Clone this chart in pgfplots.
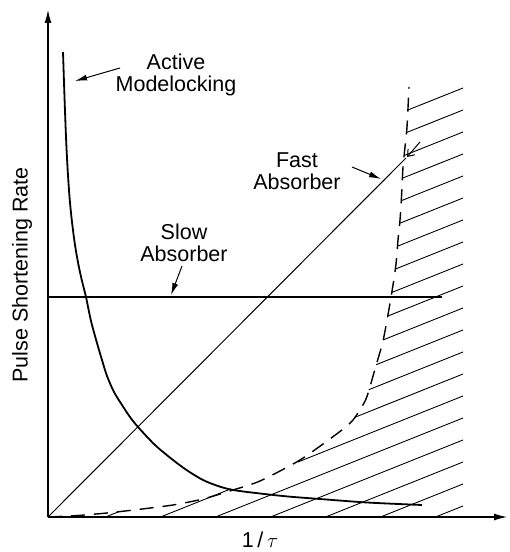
\documentclass[border=0pt]{standalone}
\usepackage{pgfplots}
\pgfplotsset{compat=1.18}
\usepackage{fontspec}
\setmainfont{Liberation Sans}
\usetikzlibrary{arrows.meta}
\begin{document}
\begin{tikzpicture}
\path[use as bounding box] (-48bp,-35bp) rectangle (462bp,517bp);
\begin{axis}[
  at={(0,0)}, anchor=south west,
  scale only axis, width=459bp, height=507bp,
  xmin=0, xmax=459, ymin=0, ymax=507,
  axis lines=left,
  axis line style={line width=1.1bp, -{Latex[length=13bp,width=7bp]}},
  xtick=\empty, ytick=\empty,
  clip=false,
]
% Active modelocking
\addplot[line width=1.8bp, smooth, tension=0.5] coordinates {
(15,465) (16.5,420) (18,380) (19.5,350) (21.5,320) (24,295) (27,272) (30.5,252)
(34,236) (38,220) (43,196) (49,174) (54,157) (59,141) (66,125) (74,112) (82,100)
(90,90) (107,72) (125,57) (140,46) (155,37) (170,31) (185,27) (212,23.5)
(240,20.5) (272,18) (319,14.5) (374,12)};
% Slow absorber
\addplot[line width=1.5bp] coordinates {(0,220) (394,220)};
% Fast absorber
\addplot[line width=1bp] coordinates {(0,0) (358,359)};
% Dashed boundary
\addplot[line width=1.4bp, dash pattern=on 14bp off 9bp, smooth, tension=0.4] coordinates {
(0,0) (30,1.5) (59,4) (90,7.5) (125,12) (155,18) (185,27) (212,36) (252,57)
(290,84) (305,97) (318,118) (327,148) (335,176) (341,208) (345,232) (348,253)
(350,277) (352,297) (353.5,320) (355,350) (357,370) (359,390) (361,430)};
% Hatching
\addplot[line width=0.9bp] coordinates {(387.5,0) (415,11)};
\addplot[line width=0.9bp] coordinates {(332.5,0) (415,33)};
\addplot[line width=0.9bp] coordinates {(277.5,0) (415,55)};
\addplot[line width=0.9bp] coordinates {(222.5,0) (415,77)};
\addplot[line width=0.9bp] coordinates {(167.5,0) (415,99)};
\addplot[line width=0.9bp] coordinates {(112.5,0) (183,28.2)};
\addplot[line width=0.9bp] coordinates {(250,55) (415,121)};
\addplot[line width=0.9bp] coordinates {(57.5,0) (70.8,5.3)};
\addplot[line width=0.9bp] coordinates {(306.6,99.6) (415,143)};
\addplot[line width=0.9bp] coordinates {(320.8,127.3) (415,165)};
\addplot[line width=0.9bp] coordinates {(328.2,152.3) (415,187)};
\addplot[line width=0.9bp] coordinates {(335.2,177.1) (415,209)};
\addplot[line width=0.9bp] coordinates {(339.7,200.9) (415,231)};
\addplot[line width=0.9bp] coordinates {(343.75,224.5) (415,253)};
\addplot[line width=0.9bp] coordinates {(347.3,247.9) (415,275)};
\addplot[line width=0.9bp] coordinates {(349.5,270.8) (415,297)};
\addplot[line width=0.9bp] coordinates {(351.7,293.7) (415,319)};
\addplot[line width=0.9bp] coordinates {(353.3,316.3) (415,341)};
\addplot[line width=0.9bp] coordinates {(354.4,338.8) (415,363)};
\addplot[line width=0.9bp] coordinates {(356.2,361.5) (415,385)};
\addplot[line width=0.9bp] coordinates {(358.4,384.4) (415,407)};
\addplot[line width=0.9bp] coordinates {(359.9,407) (415,429)};
% Annotation arrows
\addplot[line width=1bp, -{Latex[length=12bp,width=6bp]}] coordinates {(72,449) (27,436)};
\addplot[line width=1bp, -{Latex[length=12bp,width=6bp]}] coordinates {(134,251) (123,222)};
\addplot[line width=1bp, -{Latex[length=12bp,width=6bp]}] coordinates {(304,350) (333,338)};
\addplot[line width=1bp, -{Straight Barb[length=6bp,width=9bp]}] coordinates {(372,375) (359,360)};
% Labels
\node[align=center, font=\fontsize{21.5bp}{22bp}\selectfont] at (axis cs:128,442) {Active\\Modelocking};
\node[align=center, font=\fontsize{21.5bp}{22bp}\selectfont] at (axis cs:136,274) {Slow\\Absorber};
\node[align=center, font=\fontsize{21.5bp}{22bp}\selectfont] at (axis cs:249,346) {Fast\\Absorber};
\node[rotate=90, font=\fontsize{21.5bp}{22bp}\selectfont] at (axis cs:-26,242) {Pulse Shortening Rate};
\node[font=\fontsize{21.5bp}{22bp}\selectfont] at (axis cs:212,-23) {1\,/\,$\tau$};
\end{axis}
\end{tikzpicture}
\end{document}
